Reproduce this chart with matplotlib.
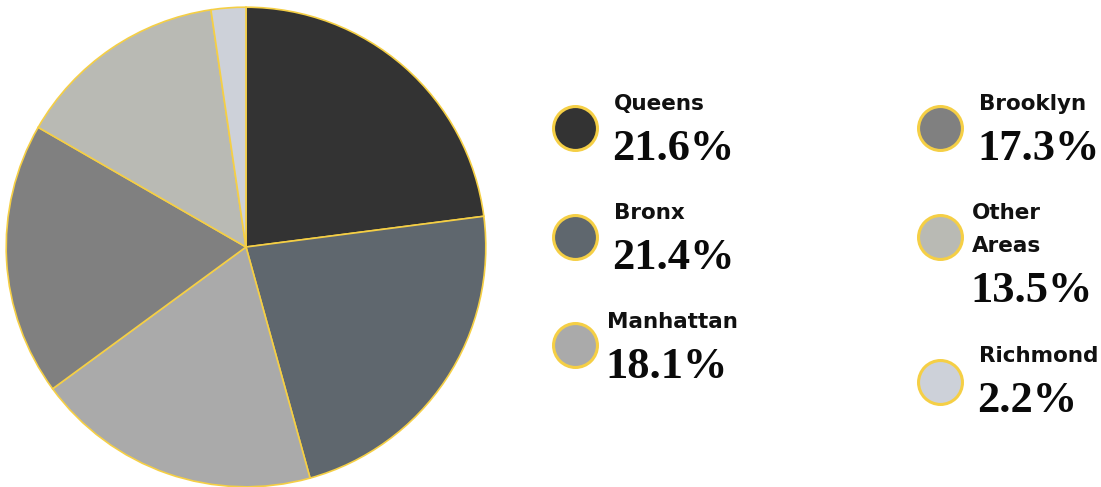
import matplotlib.pyplot as plt

# data
areas = ['Queens', 'Bronx', 'Manhattan', 'Brooklyn', 'Other Areas', 'Richmond']
legend_names = ['Queens', 'Bronx', 'Manhattan', 'Brooklyn', 'Other\nAreas', 'Richmond']
shares = [21.6, 21.4, 18.1, 17.3, 13.5, 2.2]
colors = ['#333333', '#5f676e', '#aaaaaa', '#808080', '#b9bab4', '#cdd1d9']
edge = '#f5cf45'

fig = plt.figure(figsize=(11.01, 4.87), dpi=100)
W, H = 1101, 487

# pie, placed in pixel units
cx, cy, r = 246, 247, 241
ax = fig.add_axes([(cx - r) / W, (H - cy - r) / H, 2 * r / W, 2 * r / H])
ax.pie(shares, colors=colors, startangle=90, counterclock=False, radius=1,
       wedgeprops=dict(edgecolor=edge, linewidth=1.2))
ax.set_xlim(-1.005, 1.005)
ax.set_ylim(-1.005, 1.005)
ax.axis('off')

# legend overlay in pixel coords
lg = fig.add_axes([0, 0, 1, 1])
lg.set_xlim(0, W)
lg.set_ylim(H, 0)
lg.axis('off')

# marker centre, text x, label baseline, value baseline
spots = [(575, 128, 614, 110, 160),
         (575, 237, 614, 219, 269),
         (575, 345, 607, 328, 378),
         (940, 128, 979, 110, 160),
         (940, 237, 972, 219, 302),
         (940, 382, 979, 362, 412)]

for name, val, col, (mx, my, tx, lb, vb) in zip(legend_names, shares, colors, spots):
    lg.scatter([mx], [my], s=1000, color=col, edgecolors=edge, linewidths=2.2, zorder=3)
    for i, ln in enumerate(name.split('\n')):
        lg.text(tx, lb + i * 33, ln, fontsize=15.5, fontweight='bold',
                family='DejaVu Sans', va='baseline', ha='left', color='#111111')
    lg.text(tx - 2, vb, f'{val}%', fontsize=32, fontweight='bold',
            family='Liberation Serif', va='baseline', ha='left', color='#0a0a0a')

fig.savefig('out.png', dpi=100)
